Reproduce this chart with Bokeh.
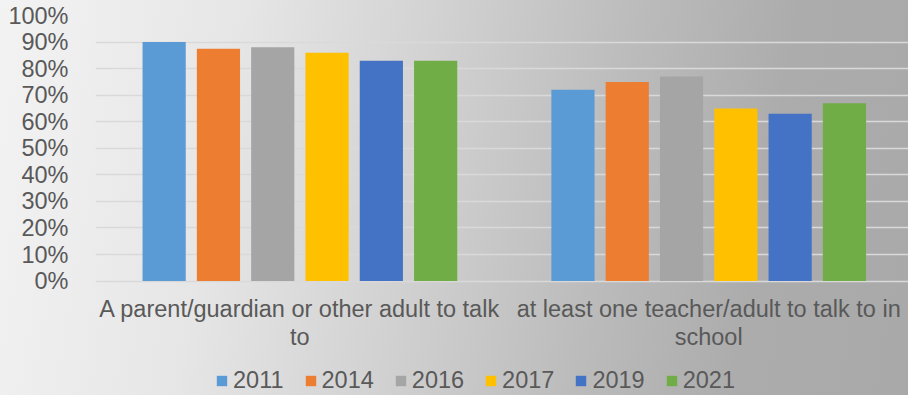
from bokeh.plotting import figure
from bokeh.models import (Range1d, FixedTicker, NumeralTickFormatter, Legend, LegendItem,
                          ColumnDataSource)
from bokeh.core.properties import value
from bokeh.embed import file_html
from bokeh.resources import INLINE

categories = ["A parent/guardian or other adult to talk\nto",
              "at least one teacher/adult to talk to in\nschool"]
years = ["2011", "2014", "2016", "2017", "2019", "2021"]
v2011 = [0.90, 0.72]
v2014 = [0.875, 0.75]
v2016 = [0.88, 0.77]
v2017 = [0.86, 0.65]
v2019 = [0.83, 0.63]
v2021 = [0.83, 0.67]
colors = ["#5B9BD5", "#ED7D31", "#A5A5A5", "#FFC000", "#4472C4", "#70AD47"]
y_ticks = [0, 0.1, 0.2, 0.3, 0.4, 0.5, 0.6, 0.7, 0.8, 0.9, 1.0]

series = [v2011, v2014, v2016, v2017, v2019, v2021]

W, H = 908, 395
LEFT, TOP = 95, 15
ZERO_Y = 280.6            # pixel row of 0 %
px_per_cat = 408.8
frame_w = W - LEFT
px_per_unit = ZERO_Y - TOP
y_start = -(H - ZERO_Y) / px_per_unit
step = 54.3 / px_per_cat
bw = 43.2 / px_per_cat

FONT = "Liberation Sans"
TXT = "#595959"
FS = "23.5px"

p = figure(width=W, height=H, output_backend="svg", toolbar_location=None,
           x_range=Range1d(0, frame_w / px_per_cat), y_range=Range1d(y_start, 1),
           x_axis_location=None,
           min_border_left=LEFT, min_border_right=0, min_border_top=TOP,
           min_border_bottom=0)
p.styles = {"background": "linear-gradient(100deg, #f3f3f3 0%, #e6e6e6 25%, #d2d2d2 45%, #bcbcbc 65%, #acacac 82%, #a9a9a9 100%)"}
p.background_fill_color = None
p.border_fill_color = None
p.outline_line_color = None

items = []
for j, (yr, vals, col) in enumerate(zip(years, series, colors)):
    xs = [i + 0.5 + (j - 2.5) * step for i in range(len(categories))]
    src = ColumnDataSource(dict(x=xs, top=vals))
    r = p.vbar(x="x", top="top", bottom=0, width=bw, source=src, fill_color=col, line_color=None)
    items.append(LegendItem(label=yr, renderers=[r]))

p.xgrid.grid_line_color = None
p.ygrid.grid_line_color = "#d9d9d9"
p.ygrid.grid_line_width = 1.5
p.yaxis.ticker = FixedTicker(ticks=y_ticks)
p.yaxis.formatter = NumeralTickFormatter(format="0%")
p.yaxis.axis_line_color = None
p.yaxis.major_tick_line_color = None
p.yaxis.minor_tick_line_color = None
p.yaxis.major_label_standoff = 21
p.yaxis.major_label_text_font = FONT
p.yaxis.major_label_text_font_size = FS
p.yaxis.major_label_text_color = TXT

# category labels under the 0 % line
cat_src = ColumnDataSource(dict(x=[i + 0.5 for i in range(len(categories))],
                                y=[0] * len(categories), t=categories))
p.text(x="x", y="y", text="t", source=cat_src, y_offset=15,
       text_align="center", text_baseline="top", text_line_height=1.07,
       text_font=value(FONT), text_font_size=value(FS), text_color=TXT)

legend = Legend(items=items, orientation="horizontal", location=(120, 1),
                glyph_width=13, glyph_height=13, label_standoff=5, spacing=20,
                padding=0, margin=0, border_line_color=None, background_fill_alpha=0,
                label_text_font=FONT, label_text_font_size=FS, label_text_color=TXT)
p.add_layout(legend)

open("out.html", "w").write(file_html(p, INLINE))
